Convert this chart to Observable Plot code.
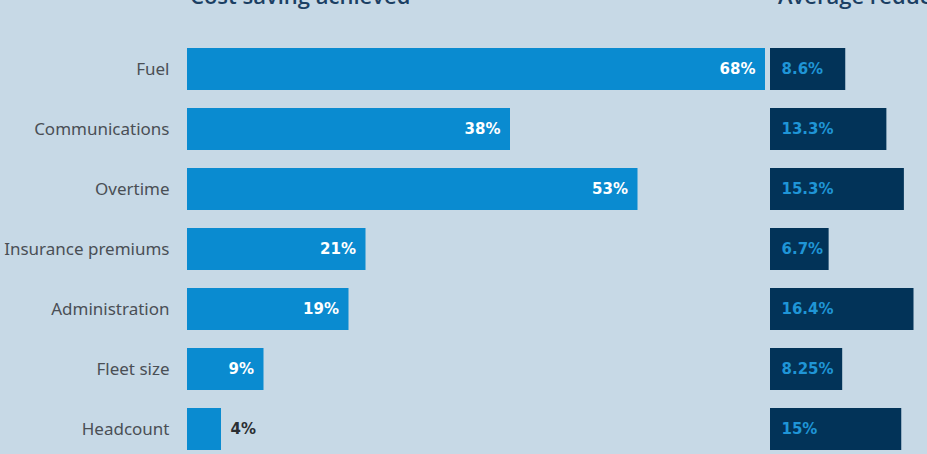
<!DOCTYPE html>
<html>
<head>
<meta charset="utf-8">
<script src="https://cdn.jsdelivr.net/npm/d3@7"></script>
<script src="https://cdn.jsdelivr.net/npm/@observablehq/plot@0.6"></script>
<style>
  html, body { margin: 0; padding: 0; background: #c7d9e6; }
  #wrap { position: relative; width: 927px; height: 454px; overflow: hidden; background: #c7d9e6; }
  #wrap svg { position: absolute; left: 0; top: 0; background: transparent; }
  .title { position: absolute; top: -20px; font-family: "Open Sans", sans-serif; font-weight: 600; font-size: 22px; color: #1b3f63; white-space: nowrap; }
</style>
</head>
<body>
<div id="wrap">
  <div class="title" style="left:190px">Cost saving achieved</div>
  <div class="title" style="left:778px">Average reduction</div>
</div>
<script>
const categories = ["Fuel", "Communications", "Overtime", "Insurance premiums", "Administration", "Fleet size", "Headcount"];
const costSaving = [68, 38, 53, 21, 19, 9, 4];
const avgReduction = [8.6, 13.3, 15.3, 6.7, 16.4, 8.25, 15];
const avgReductionLabels = ["8.6%", "13.3%", "15.3%", "6.7%", "16.4%", "8.25%", "15%"];

const left = categories.map((c, i) => ({category: c, value: costSaving[i], label: costSaving[i] + "%"}));
const right = categories.map((c, i) => ({category: c, value: avgReduction[i], label: avgReductionLabels[i]}));

const yScale = {domain: categories, range: [30, 468], padding: 0.3};
const W = 927, H = 454;

const leftPlot = Plot.plot({
  width: W, height: H,
  marginLeft: 187, marginRight: 0, marginTop: 0, marginBottom: 0,
  style: {background: "transparent", overflow: "visible"},
  x: {domain: [0, 68], range: [187, 765], axis: null},
  y: {...yScale, label: null},
  marks: [
    Plot.axisY({tickSize: 0, tickPadding: 18, fontSize: 17, fill: "#4a4f55", label: null,
      style: {fontFamily: "'DejaVu Sans Condensed', 'DejaVu Sans', sans-serif", fontStretch: "condensed"}}),
    Plot.barX(left, {x: "value", y: "category", fill: "#0a8bd0"}),
    Plot.text(left.filter(d => d.value >= 8), {x: "value", y: "category", text: "label", textAnchor: "end", dx: -10,
      fill: "white", fontWeight: "bold", fontSize: 15, fontFamily: "'DejaVu Sans', sans-serif"}),
    Plot.text(left.filter(d => d.value < 8), {x: "value", y: "category", text: "label", textAnchor: "start", dx: 9,
      fill: "#2b2f33", fontWeight: "bold", fontSize: 15, fontFamily: "'DejaVu Sans', sans-serif"})
  ]
});

const rightPlot = Plot.plot({
  width: W, height: H,
  marginLeft: 0, marginRight: 0, marginTop: 0, marginBottom: 0,
  style: {background: "transparent", overflow: "visible"},
  x: {domain: [0, 16.4], range: [770, 913.5], axis: null},
  y: {...yScale, axis: null},
  marks: [
    Plot.barX(right, {x: "value", y: "category", fill: "#023358"}),
    Plot.text(right, {x: 0, y: "category", text: "label", textAnchor: "start", dx: 11,
      fill: "#1f95d6", fontWeight: "bold", fontSize: 15, fontFamily: "'DejaVu Sans', sans-serif"})
  ]
});

const wrap = document.getElementById("wrap");
wrap.appendChild(leftPlot);
wrap.appendChild(rightPlot);
</script>
</body>
</html>
